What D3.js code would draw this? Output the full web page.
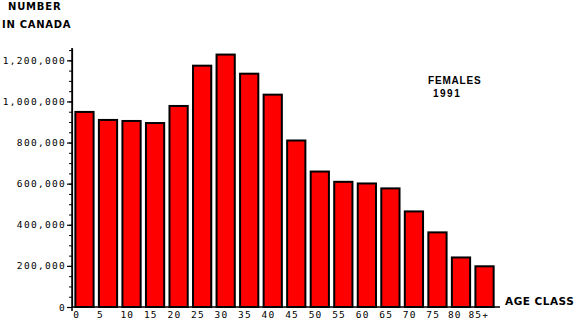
<!DOCTYPE html>
<html lang="en">
<head>
    <meta charset="UTF-8">
    <script src="https://d3js.org/d3.v7.min.js"></script>
    <title>Females 1991</title>
    <style>
        body { margin: 0; background: #fff; }
    </style>
</head>
<body>
    <div id="container"></div>
    <script>
        const width = 576, height = 321;

        // age classes and female population, Canada 1991
        const ages = ["0", "5", "10", "15", "20", "25", "30", "35", "40", "45", "50", "55", "60", "65", "70", "75", "80", "85+"];
        const females = [949000, 910000, 905000, 895000, 978000, 1174000, 1228000, 1135000, 1033000, 810000, 659000, 609000, 601000, 577000, 465000, 363000, 241000, 198000];
        const yTicks = [0, 200000, 400000, 600000, 800000, 1000000, 1200000];

        const svg = d3.select("#container")
            .append("svg")
            .attr("width", width)
            .attr("height", height);

        const x = d3.scaleBand()
            .domain(ages)
            .range([72, 497])
            .paddingInner(0.14)
            .paddingOuter(0.1);

        const y = d3.scaleLinear()
            .domain([0, 1260000])
            .range([307, 48]);

        const mono = "'DejaVu Sans Mono', monospace";
        const bold = "'DejaVu Sans', sans-serif";

        // bars
        svg.append("g")
            .selectAll("rect")
            .data(females)
            .enter()
            .append("rect")
            .attr("x", (d, i) => x(ages[i]) + 1)
            .attr("y", d => y(d))
            .attr("width", x.bandwidth() - 2)
            .attr("height", d => y(0) - y(d))
            .attr("fill", "#ff0000")
            .attr("stroke", "#000")
            .attr("stroke-width", 2);

        // minor y ticks
        svg.append("g")
            .attr("transform", "translate(72,0)")
            .call(d3.axisLeft(y).tickValues(d3.range(0, 1250001, 50000)).tickSize(3).tickSizeOuter(0).tickFormat(""))
            .call(g => g.select(".domain").remove());

        // major y ticks
        svg.append("g")
            .attr("transform", "translate(72,0)")
            .call(d3.axisLeft(y).tickValues(yTicks).tickSize(5).tickSizeOuter(0).tickFormat(d3.format(",")))
            .call(g => g.selectAll("text")
                .attr("font-family", mono)
                .attr("font-size", 9.5)
                .attr("letter-spacing", 1.3)
                .attr("x", -6)
                .attr("fill", "#000"))
            .call(g => g.selectAll("line, path").attr("stroke", "#000").attr("stroke-width", 1.2));

        // axis lines
        svg.append("line")
            .attr("x1", 72).attr("x2", 72)
            .attr("y1", y.range()[1]).attr("y2", 311)
            .attr("stroke", "#000").attr("stroke-width", 1.5);
        svg.append("line")
            .attr("x1", 72).attr("x2", 500)
            .attr("y1", y(0)).attr("y2", y(0))
            .attr("stroke", "#000").attr("stroke-width", 1.5);

        // x labels
        svg.append("g")
            .selectAll("text")
            .data(ages)
            .enter()
            .append("text")
            .attr("x", d => x(d) + (d == "85+" ? -6 : (d == "80" ? -3 : -1)))
            .attr("y", 318)
            .attr("font-family", mono)
            .attr("font-size", 9.5)
            .attr("letter-spacing", 1.2)
            .text(d => d);

        // titles
        svg.append("text")
            .attr("x", 8).attr("y", 10)
            .attr("font-family", bold).attr("font-weight", "bold")
            .attr("font-size", 10).attr("letter-spacing", 0.8)
            .text("NUMBER");
        svg.append("text")
            .attr("x", 2).attr("y", 28)
            .attr("font-family", bold).attr("font-weight", "bold")
            .attr("font-size", 10).attr("letter-spacing", 0.7)
            .text("IN CANADA");
        svg.append("text")
            .attr("x", 505).attr("y", 305)
            .attr("font-family", bold).attr("font-weight", "bold")
            .attr("font-size", 10.5).attr("letter-spacing", 0.5)
            .text("AGE CLASS");
        svg.append("text")
            .attr("x", 428).attr("y", 84)
            .attr("font-family", "'Liberation Sans', Arial, sans-serif").attr("font-weight", "bold")
            .attr("font-size", 10).attr("letter-spacing", 0.8)
            .text("FEMALES");
        svg.append("text")
            .attr("x", 433).attr("y", 97)
            .attr("font-family", "'Liberation Sans', Arial, sans-serif").attr("font-weight", "bold")
            .attr("font-size", 10).attr("letter-spacing", 1.5)
            .text("1991");
    </script>
</body>
</html>
